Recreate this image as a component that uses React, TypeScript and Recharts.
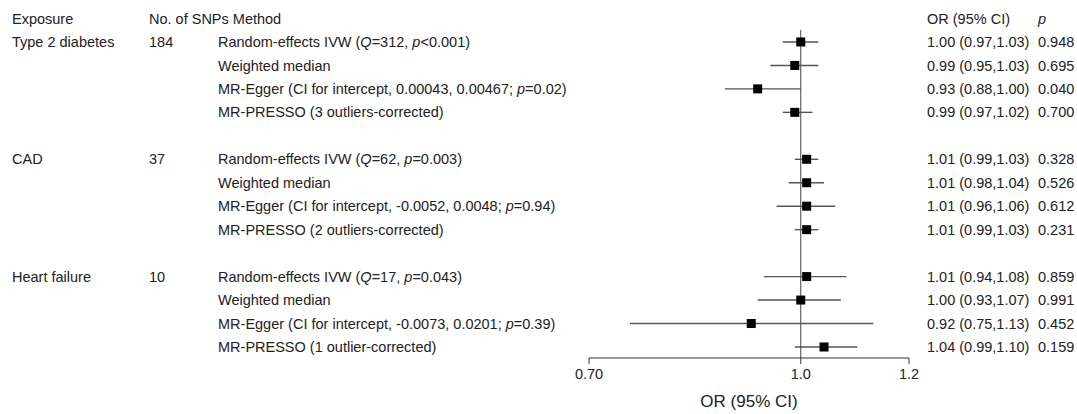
import React from "react";
import { ScatterChart, Scatter, XAxis, YAxis, ErrorBar, ReferenceLine } from "recharts";

const exposures = ["Type 2 diabetes", "CAD", "Heart failure"];
const snpCounts = ["184", "37", "10"];
// *...* marks italic text
const methods = [
  "Random-effects IVW (*Q*=312, *p*<0.001)",
  "Weighted median",
  "MR-Egger (CI for intercept, 0.00043, 0.00467; *p*=0.02)",
  "MR-PRESSO (3 outliers-corrected)",
  "Random-effects IVW (*Q*=62, *p*=0.003)",
  "Weighted median",
  "MR-Egger (CI for intercept, -0.0052, 0.0048; *p*=0.94)",
  "MR-PRESSO (2 outliers-corrected)",
  "Random-effects IVW (*Q*=17, *p*=0.043)",
  "Weighted median",
  "MR-Egger (CI for intercept, -0.0073, 0.0201; *p*=0.39)",
  "MR-PRESSO (1 outlier-corrected)",
];
const orValues = [1.0, 0.99, 0.93, 0.99, 1.01, 1.01, 1.01, 1.01, 1.01, 1.0, 0.92, 1.04];
const ciLow = [0.97, 0.95, 0.88, 0.97, 0.99, 0.98, 0.96, 0.99, 0.94, 0.93, 0.75, 0.99];
const ciHigh = [1.03, 1.03, 1.0, 1.02, 1.03, 1.04, 1.06, 1.03, 1.08, 1.07, 1.13, 1.1];
const pValues = ["0.948", "0.695", "0.040", "0.700", "0.328", "0.526", "0.612", "0.231", "0.859", "0.991", "0.452", "0.159"];
const xTicks = [0.7, 1.0, 1.2];
const xTickLabels = ["0.70", "1.0", "1.2"];

const perGroup = 4;
const data = orValues.map((or, i) => ({
  row: i,
  slot: Math.floor(i / perGroup) * (perGroup + 1) + (i % perGroup),
  or,
  err: [or - ciLow[i], ciHigh[i] - or],
}));
const slots = data.map((d) => d.slot);
const slotDomain = [-0.51, 13.47];

const TEXT = "#222";
const FONT = "'Liberation Sans', Arial, Helvetica, sans-serif";
const FS = 14.5;

function RichText({ text }: { text: string }) {
  return (
    <>
      {text.split("*").map((s, i) =>
        i % 2 ? <tspan key={i} fontStyle="italic">{s}</tspan> : <tspan key={i}>{s}</tspan>
      )}
    </>
  );
}

function LeftTick(props: any) {
  const { y, payload } = props;
  const row = slots.indexOf(payload.value);
  if (row < 0) return null;
  const first = row % perGroup === 0;
  const g = Math.floor(row / perGroup);
  return (
    <g fill={TEXT} fontSize={FS}>
      {first && <text x={12} y={y} dy="0.35em">{exposures[g]}</text>}
      {first && <text x={149} y={y} dy="0.35em">{snpCounts[g]}</text>}
      <text x={218} y={y} dy="0.35em"><RichText text={methods[row]} /></text>
    </g>
  );
}

function RightTick(props: any) {
  const { y, payload } = props;
  const row = slots.indexOf(payload.value);
  if (row < 0) return null;
  const label = `${orValues[row].toFixed(2)} (${ciLow[row].toFixed(2)},${ciHigh[row].toFixed(2)})`;
  return (
    <g fill={TEXT} fontSize={FS}>
      <text x={927} y={y} dy="0.35em">{label}</text>
      <text x={1038} y={y} dy="0.35em">{pValues[row]}</text>
    </g>
  );
}

const Square = (props: any) => {
  const { cx, cy } = props;
  return <rect x={cx - 4.5} y={cy - 4.5} width={9} height={9} fill="#000" />;
};

export default function App() {
  return (
    <div style={{ position: "absolute", left: 0, top: 0, width: 1077, height: 414, background: "#fff", fontFamily: FONT }}>
      <ScatterChart width={1077} height={414} margin={{ top: 30, right: 0, bottom: 0, left: 0 }}>
        <XAxis
          type="number"
          dataKey="or"
          scale="log"
          domain={[0.7, 1.2]}
          allowDataOverflow
          ticks={xTicks}
          interval={0}
          tickFormatter={(v) => xTickLabels[xTicks.indexOf(v)]}
          height={56}
          tickSize={6}
          tickMargin={5}
          stroke="#333"
          tick={{ fill: TEXT, fontSize: FS }}
          label={{ value: "OR (95% CI)", position: "insideBottom", offset: 7, fill: TEXT, fontSize: 17 }}
        />
        <YAxis
          yAxisId="l"
          type="number"
          dataKey="slot"
          domain={slotDomain}
          allowDataOverflow
          reversed
          width={589}
          ticks={slots}
          interval={0}
          axisLine={false}
          tickLine={false}
          tick={<LeftTick />}
        />
        <YAxis
          yAxisId="r"
          orientation="right"
          type="number"
          domain={slotDomain}
          allowDataOverflow
          reversed
          width={168}
          ticks={slots}
          interval={0}
          axisLine={false}
          tickLine={false}
          tick={<RightTick />}
        />
        <ReferenceLine x={1} yAxisId="l" stroke="#444" strokeWidth={1} />
        <Scatter data={data} yAxisId="l" shape={<Square />} isAnimationActive={false}>
          <ErrorBar dataKey="err" direction="x" width={0} stroke="#555" strokeWidth={1.4} isAnimationActive={false} />
        </Scatter>
      </ScatterChart>
      <svg width={1077} height={30} style={{ position: "absolute", left: 0, top: 0 }}>
        <g fill={TEXT} fontSize={FS}>
          <text x={12} y={19} dy="0.35em">Exposure</text>
          <text x={149} y={19} dy="0.35em">No. of SNPs Method</text>
          <text x={927} y={19} dy="0.35em">OR (95% CI)</text>
          <text x={1038} y={19} dy="0.35em" fontStyle="italic">p</text>
        </g>
      </svg>
    </div>
  );
}
